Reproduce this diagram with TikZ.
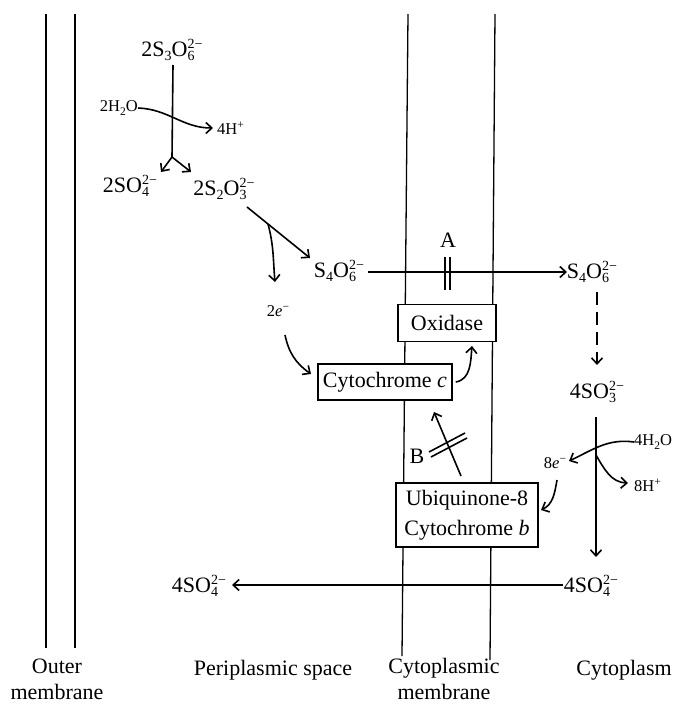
\documentclass[tikz,border=0pt]{standalone}
\usepackage{fontspec}
\setmainfont{Liberation Serif}
\usetikzlibrary{arrows.meta}
\newcommand\lsub[1]{\raisebox{-0.45ex}{\fontsize{14}{14}\selectfont #1}}
\newcommand\chs[2]{\makebox[0pt][l]{\raisebox{-0.45ex}{\fontsize{14}{14}\selectfont #1}}\raisebox{0.75ex}{\fontsize{14}{14}\selectfont #2}}
\newcommand\ssub[1]{\raisebox{-0.45ex}{\fontsize{11.5}{12}\selectfont #1}}
\newcommand\ssup[1]{\raisebox{0.75ex}{\fontsize{11.5}{12}\selectfont #1}}
\tikzset{
 lab/.style={font=\fontsize{22}{26}\selectfont, inner sep=0pt},
 sml/.style={font=\fontsize{16.5}{18}\selectfont, inner sep=0pt},
 boxn/.style={draw, fill=white, line width=1.6pt, inner sep=0pt, font=\fontsize{22}{30}\selectfont, align=center},
 mem/.style={line width=1.3pt},
 conn/.style={line width=1.6pt},
 arr/.style={line width=1.6pt, -{Straight Barb[length=6pt,width=11pt]}},
}
\begin{document}
\begin{tikzpicture}[x=1pt,y=-1pt]
\useasboundingbox (0,0) rectangle (680,704);
% membranes
\draw[mem] (46,14) -- (46,648);
\draw[mem] (75,14) -- (75,648);
\draw[mem] (408,14) -- (402,656);
\draw[mem] (495,14) -- (490,660);

% top-left reaction
\node[lab] (s3o6) at (172,50) {2S\lsub{3}O\chs{6}{2−}};
\coordinate (j1) at (172,157);
\draw[conn] (173,65) -- (j1);
\node[lab] (so4a) at (130,186) {2SO\chs{4}{2−}};
\node[lab] (s2o3) at (224,189) {2S\lsub{2}O\chs{3}{2−}};
\coordinate (fa) at (161,172);
\coordinate (fb) at (191,172);
\draw[arr] (j1) -- (fa);
\draw[arr] (j1) -- (fb);
\node[sml, anchor=east] (h2oa) at (138,108) {2H\ssub{2}O};
\node[sml, anchor=west] (ha) at (217,128) {4H\ssup{+}};
\draw[arr] (h2oa.east) to[out=-2,in=180] ([xshift=-4pt]ha.west);

% thiosulfate to tetrathionate
\coordinate (t1) at (247,207);
\coordinate (t2) at (310,258);
\coordinate (tb) at (268,224);
\coordinate (tc) at (275,282);
\draw[arr] (t1) -- (t2);
\draw[arr] (tb) to[out=-75,in=95] (tc);
\node[lab] (s4o6l) at (339,271) {S\lsub{4}O\chs{6}{2−}};
\node[lab] (s4o6r) at (592,272) {S\lsub{4}O\chs{6}{2−}};
\draw[arr] (s4o6l.east) ++(4,1) coordinate (h1) -- (567,272) coordinate (h2);
\node[lab] (la) at (448,240) {A};
\draw[conn] (445,257) -- (445,290);
\draw[conn] (450,257) -- (450,290);

% electron transport
\node[sml] (e2) at (278,311) {2\textit{e}\ssup{−}};
\node[boxn, minimum width=98pt, minimum height=37pt] (ox) at (447,323) {Oxidase};
\node[boxn, minimum width=134pt, minimum height=36pt] (cyc) at (385,382) {Cytochrome \textit{c}};
\node[boxn, minimum width=142pt, minimum height=64pt] (ubq) at (467,515) {Ubiquinone-8\\Cytochrome \textit{b}};
\draw[arr] (285,335) to[out=-78,in=145] (311,374);
\draw[arr] (cyc.east) ++(3,0) coordinate (c1) to[out=10,in=-95] (472,346);
\draw[arr] (461,476) -- (434,412);
\draw[conn] (429,452) -- (465,433);
\draw[conn] (431,457) -- (467,438);
\node[lab] (lb) at (417,456) {B};

% right side
\draw[line width=1.6pt, dash pattern=on 13pt off 7pt] (597,292) -- (597,352);
\draw[arr] (597,352) -- (597,365);
\node[lab] (so3) at (597,392) {4SO\chs{3}{2−}};
\node[lab] (so4r) at (591,586) {4SO\chs{4}{2−}};
\draw[arr] (596,417) -- (596,557);
\node[sml, anchor=west] (h2ob) at (634,442) {4H\ssub{2}O};
\node[sml] (e8) at (555,463) {8\textit{e}\ssup{−}};
\node[sml, anchor=west] (hb) at (634,485) {8H\ssup{+}};
\draw[arr] (h2ob.west) to[out=172,in=25] (569,461);
\draw[arr] (596,455) to[out=-60,in=178] (628,483);
\draw[arr] (557,480) to[out=-100,in=25] (541,510);
\node[lab] (so4l) at (199,586) {4SO\chs{4}{2−}};
\draw[arr] (563,585) -- (232,585);

% bottom labels
\node[lab, align=center] (om) at (57,679) {Outer\\membrane};
\node[lab] (ps) at (273,670) {Periplasmic space};
\node[lab, align=center] (cm) at (444,679) {Cytoplasmic\\membrane};
\node[lab] (cp) at (624,670) {Cytoplasm};
\end{tikzpicture}
\end{document}
